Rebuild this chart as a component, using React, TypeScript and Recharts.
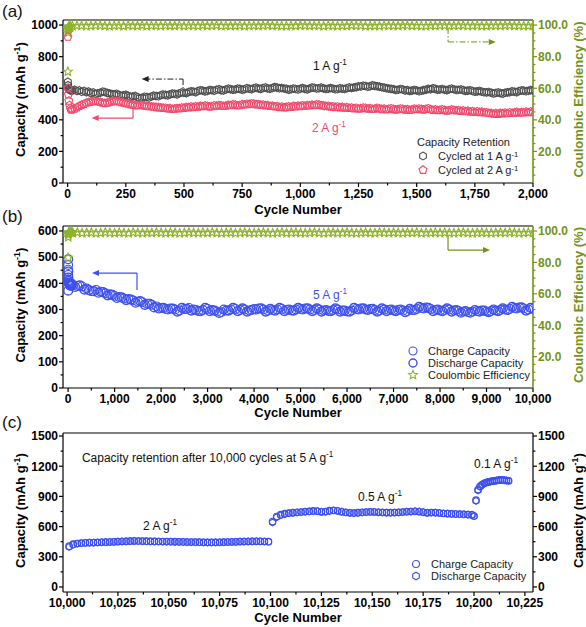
import React from 'react';
import { ScatterChart, Scatter, XAxis, YAxis, ReferenceLine, ReferenceDot, Legend } from 'recharts';

const range = (a: number, b: number, s: number) => {
  const out: number[] = [];
  for (let v = a; v <= b + 1e-9; v += s) out.push(Math.round(v * 1000) / 1000);
  return out;
};

// ---------- (a) long cycling at 1 and 2 A/g ----------
const cyclesA = [1, 2, 3, 5, 8, 12, 16, 20, ...range(30, 2000, 10)];
const cap1A = [
  640, 618, 602, 596, 590, 586, 589, 584,
  590, 582, 586, 578, 583, 575, 579, 569, 573, 564,
  568, 571, 578, 576, 570, 567, 563, 561, 565, 558,
  552, 556, 558, 552, 546, 548, 551, 543, 538, 540,
  546, 544, 541, 548, 553, 551, 549, 556, 560, 558,
  555, 561, 566, 565, 561, 568, 573, 572, 569, 576,
  580, 579, 575, 582, 587, 585, 580, 583, 589, 587,
  584, 590, 594, 588, 586, 592, 597, 594, 590, 592,
  597, 596, 591, 594, 600, 597, 594, 600, 604, 598,
  596, 601, 605, 599, 597, 602, 607, 604, 600, 601,
  598, 596, 591, 593, 598, 595, 592, 597, 601, 596,
  593, 598, 604, 603, 598, 600, 604, 599, 595, 597,
  601, 598, 593, 595, 600, 597, 595, 600, 605, 602,
  605, 607, 612, 611, 616, 614, 609, 612, 618, 615,
  612, 610, 606, 604, 600, 598, 596, 594, 589, 590,
  595, 592, 586, 588, 583, 585, 589, 586, 581, 584,
  588, 590, 596, 594, 599, 596, 591, 592, 595, 590,
  588, 594, 597, 593, 589, 590, 592, 588, 583, 585,
  587, 582, 578, 580, 583, 578, 574, 574, 576, 572,
  567, 570, 573, 569, 566, 571, 574, 575, 580, 578,
  575, 582, 586, 585, 581, 584, 588, 586,
];
const cap2A = [
  925, 600, 560, 520, 492, 472, 463, 466,
  470, 478, 487, 494, 500, 507, 511, 514, 518, 519,
  515, 512, 507, 505, 508, 511, 516, 517, 520, 515,
  511, 508, 504, 501, 497, 495, 492, 490, 494, 492,
  489, 488, 485, 484, 482, 480, 478, 477, 475, 474,
  471, 472, 468, 470, 473, 472, 476, 475, 479, 478,
  482, 480, 484, 482, 486, 485, 489, 487, 483, 485,
  490, 488, 492, 490, 487, 489, 493, 492, 496, 494,
  490, 492, 497, 496, 500, 499, 503, 501, 497, 498,
  494, 495, 491, 492, 487, 488, 484, 485, 480, 482,
  478, 480, 483, 481, 486, 484, 488, 486, 490, 488,
  492, 490, 494, 492, 496, 494, 491, 490, 486, 487,
  483, 484, 480, 482, 478, 480, 476, 478, 474, 476,
  472, 474, 470, 472, 476, 474, 470, 472, 468, 470,
  474, 471, 467, 469, 465, 468, 471, 467, 464, 466,
  470, 468, 464, 466, 462, 465, 469, 466, 470, 467,
  464, 468, 471, 466, 462, 464, 460, 462, 465, 461,
  457, 460, 464, 462, 458, 460, 455, 458, 454, 456,
  451, 454, 449, 452, 448, 450, 446, 446, 443, 442,
  438, 440, 437, 442, 440, 444, 441, 446, 443, 445,
  448, 444, 447, 446, 450, 447, 451, 448,
];
const ceCyclesA1 = [1, 2, 3, 5, 10, ...range(20, 1980, 40)];
const ceA1 = [
  70.5, 95.2, 97.4, 98.5, 99.0,
  99.4, 99.6, 99.5, 99.7, 99.3, 99.6, 99.8, 99.5, 99.4, 99.6,
  99.7, 99.5, 99.3, 99.6, 99.8, 99.6, 99.4, 99.5, 99.7, 99.6,
  99.5, 99.8, 99.6, 99.4, 99.5, 99.7, 99.6, 99.3, 99.5, 99.6,
  99.8, 99.7, 99.5, 99.4, 99.6, 99.5, 99.7, 99.6, 99.4, 99.5,
  99.7, 99.6, 99.8, 99.5, 99.4, 99.6, 99.5, 99.7, 99.6, 99.5,
];
const ceCyclesA2 = [1, 2, 3, 5, 10, ...range(40, 2000, 40)];
const ceA2 = [
  96.8, 98.0, 98.6, 99.0, 99.2,
  99.6, 99.4, 99.7, 99.5, 99.6, 99.3, 99.5, 99.8, 99.6, 99.4,
  99.5, 99.7, 99.6, 99.4, 99.5, 99.8, 99.6, 99.5, 99.3, 99.6,
  99.7, 99.5, 99.4, 99.6, 99.8, 99.5, 99.6, 99.7, 99.4, 99.5,
  99.6, 99.3, 99.5, 99.7, 99.6, 99.8, 99.5, 99.4, 99.6, 99.7,
  99.5, 99.6, 99.4, 99.7, 99.5, 99.6, 99.8, 99.5, 99.4, 99.6,
];

// ---------- (b) 10,000 cycles at 5 A/g ----------
const cyclesB = [1, 2, 3, 5, 10, 20, 40, 60, 80, ...range(100, 10000, 100)];
const cyclesB2 = [1, 2, 3, 5, 10, 20, 40, 60, 80, ...range(50, 9950, 100)];
const chargeB = [
  470, 452, 432, 412, 402, 396, 392, 398, 395,
  392, 390, 388, 380, 370, 375, 368, 362, 358, 352,
  348, 342, 340, 335, 330, 328, 322, 318, 312, 306,
  302, 304, 300, 296, 302, 306, 300, 294, 298, 302,
  298, 292, 290, 296, 300, 302, 298, 300, 296, 302,
  304, 300, 296, 298, 300, 302, 298, 296, 300, 302,
  304, 300, 298, 300, 296, 294, 298, 300, 296, 292,
  296, 302, 304, 300, 302, 298, 296, 300, 298, 296,
  298, 296, 294, 298, 302, 306, 308, 302, 298, 296,
  298, 300, 296, 294, 292, 290, 292, 294, 296, 292,
  294, 296, 298, 300, 302, 306, 308, 304, 300, 302,
];
const dischargeB = [
  492, 372, 445, 422, 408, 400, 395, 390, 398,
  396, 386, 392, 376, 374, 370, 364, 366, 354, 356,
  344, 346, 336, 338, 326, 332, 318, 322, 308, 304,
  306, 300, 303, 292, 306, 302, 296, 298, 294, 306,
  294, 296, 287, 300, 296, 306, 294, 304, 292, 298,
  300, 304, 292, 302, 296, 306, 294, 300, 296, 306,
  300, 304, 294, 304, 292, 298, 294, 304, 292, 296,
  292, 306, 300, 304, 298, 302, 292, 304, 294, 300,
  294, 300, 290, 302, 298, 310, 304, 306, 294, 300,
  294, 304, 292, 298, 288, 294, 288, 298, 292, 296,
  290, 300, 294, 304, 298, 310, 304, 308, 296, 306,
];
const ceB = [
  83.0, 96.1, 97.6, 98.4, 98.9, 99.1, 99.3, 99.2, 99.4,
  98.9, 99.1, 98.7, 98.9, 99.0, 98.6, 98.8, 99.1, 98.9, 98.7,
  99.0, 98.8, 98.6, 99.1, 98.9, 98.7, 99.0, 98.8, 99.1, 98.9,
  98.7, 99.0, 98.9, 98.6, 98.8, 99.1, 98.9, 98.7, 99.0, 98.8,
  99.1, 98.8, 98.7, 98.9, 99.0, 98.6, 98.9, 99.1, 98.8, 98.7,
  98.9, 99.0, 98.8, 98.6, 98.9, 99.1, 98.7, 98.9, 99.0, 98.8,
  98.7, 98.9, 99.1, 98.8, 98.6, 98.9, 99.0, 98.7, 98.9, 99.1,
  98.8, 98.6, 98.9, 99.0, 98.8, 98.7, 99.1, 98.9, 98.8, 99.0,
  98.9, 98.7, 99.0, 98.8, 99.1, 98.6, 98.9, 98.8, 99.0, 98.7,
  99.0, 98.8, 98.7, 98.9, 99.1, 98.8, 98.6, 98.9, 99.0, 98.8,
  98.7, 98.9, 99.0, 98.8, 99.1, 98.9, 98.7, 98.8, 99.0, 98.9,
];

// ---------- (c) rate steps after 10,000 cycles ----------
const cyclesC = [...range(10001, 10099, 2), ...range(10101, 10199, 2), 10200, ...range(10201, 10217, 1)];
const chargeC = [
  405, 425, 432, 436, 438, 440, 441, 442, 444, 445,
  446, 448, 450, 452, 453, 455, 456, 457, 456, 455,
  454, 453, 452, 452, 451, 450, 450, 449, 448, 447,
  446, 446, 445, 444, 443, 443, 444, 444, 445, 446,
  447, 448, 450, 451, 452, 453, 454, 453, 452, 450,
  650, 700, 718, 728, 735, 738, 742, 745, 748, 752,
  756, 752, 744, 750, 758, 760, 754, 746, 740, 736,
  735, 738, 742, 745, 746, 745, 742, 740, 738, 738,
  740, 742, 745, 748, 750, 752, 748, 742, 736, 740,
  738, 734, 730, 728, 726, 724, 724, 722, 720, 716,
  705,
  862, 968, 1000, 1018, 1030, 1038, 1044, 1048, 1052, 1055, 1058, 1062, 1064, 1062, 1060, 1058, 1054,
];
const dischargeC = [
  398, 420, 430, 435, 439, 441, 440, 443, 445, 446,
  447, 449, 451, 453, 455, 456, 458, 456, 455, 454,
  453, 452, 451, 450, 450, 449, 448, 447, 447, 446,
  445, 444, 444, 443, 442, 442, 443, 445, 446, 447,
  448, 449, 451, 452, 453, 454, 455, 454, 452, 449,
  640, 692, 712, 724, 732, 736, 740, 744, 747, 750,
  754, 755, 748, 746, 754, 762, 757, 750, 742, 738,
  734, 736, 740, 744, 747, 746, 744, 741, 739, 737,
  739, 741, 744, 747, 749, 753, 750, 745, 738, 737,
  739, 736, 732, 729, 727, 725, 722, 723, 719, 718,
  702,
  855, 960, 995, 1015, 1028, 1036, 1042, 1047, 1050, 1054, 1057, 1060, 1063, 1063, 1061, 1059, 1056,
];

// tick positions (majors get labels, the rest are minor ticks)
const xTicksA = range(0, 2000, 125);
const yTicksA = range(0, 1000, 100);
const xTicksB = range(0, 10000, 500);
const yTicksB = range(0, 600, 50);
const ceTicks = range(5, 100, 5);
const xTicksC = range(10000, 10225, 12.5);
const yTicksC = range(0, 1500, 150);

const FONT = '"Liberation Sans", Arial, sans-serif';
const GREEN = '#72931a';
const STAR = '#8db32b';
const GRAY = '#4f4f4f';
const PINK = '#f04a6c';
const BLUE = '#3e50ee';
const AXIS = { stroke: '#000', strokeWidth: 1.2 };
const GAXIS = { stroke: GREEN, strokeWidth: 1.6 };
const TS = 4;
const TM = 2;

const toPts = (xs: number[], ys: number[]) => xs.map((x, i) => ({ x, y: ys[i] }));
const fmtK = (v: number) => v.toLocaleString('en-US');
const fmtN = (v: number) => String(v);
const fmtCE = (v: number) => v.toFixed(1);

type Side = 'bottom' | 'left' | 'right';
const makeTick = (side: Side, step: number, fmt: (v: number) => string, color: string) => (props: any) => {
  const { x, y, payload } = props;
  const v = payload.value;
  const major = Math.abs(v / step - Math.round(v / step)) < 1e-6;
  const len = major ? TS : TS * 0.6;
  const txt = { fontFamily: FONT, fontSize: 12, fontWeight: 700, fill: color };
  if (side === 'bottom') {
    const ay = y - TS - TM;
    return (
      <g>
        <line x1={x} x2={x} y1={ay} y2={ay + len} stroke={color} strokeWidth={1.2} />
        {major && <text x={x} y={ay + 15} textAnchor="middle" {...txt}>{fmt(v)}</text>}
      </g>
    );
  }
  if (side === 'left') {
    const ax = x + TS + TM;
    return (
      <g>
        <line x1={ax} x2={ax - len} y1={y} y2={y} stroke={color} strokeWidth={1.2} />
        {major && <text x={ax - 5} y={y + 4.3} textAnchor="end" {...txt}>{fmt(v)}</text>}
      </g>
    );
  }
  const ax = x - TS - TM;
  return (
    <g>
      <line x1={ax} x2={ax + len} y1={y} y2={y} stroke={color} strokeWidth={1.2} />
      {major && <text x={ax + 5} y={y + 4.3} textAnchor="start" {...txt}>{fmt(v)}</text>}
    </g>
  );
};

const pts = (cx: number, cy: number, r: number, n: number, inner = 0) => {
  const k = inner ? n * 2 : n;
  const out: string[] = [];
  for (let i = 0; i < k; i++) {
    const rr = inner && i % 2 ? inner : r;
    const a = ((-90 + (360 / k) * i) * Math.PI) / 180;
    out.push(`${(cx + rr * Math.cos(a)).toFixed(2)},${(cy + rr * Math.sin(a)).toFixed(2)}`);
  }
  return out.join(' ');
};

const hexagon = (color: string, r = 3.9) => (p: any) =>
  <polygon points={pts(p.cx, p.cy, r, 6)} fill="none" stroke={color} strokeWidth={1.1} />;
const pentagon = (color: string, r = 4.2) => (p: any) =>
  <polygon points={pts(p.cx, p.cy, r, 5)} fill="none" stroke={color} strokeWidth={1.1} />;
const star = (color: string, r = 4.6) => (p: any) =>
  <polygon points={pts(p.cx, p.cy, r, 5, r * 0.45)} fill="none" stroke={color} strokeWidth={1.1} />;
const ring = (color: string, r = 4, w = 1.1) => (p: any) =>
  <circle cx={p.cx} cy={p.cy} r={r} fill="none" stroke={color} strokeWidth={w} />;

const arrowHead = (dir: 'left' | 'right', color: string) => (p: any) => {
  const s = dir === 'left' ? 1 : -1;
  return <polygon points={`${p.cx},${p.cy} ${p.cx + s * 7},${p.cy - 3} ${p.cx + s * 7},${p.cy + 3}`} fill={color} />;
};

const note = (base: string, sup: string, color: string, size = 12, anchor: 'middle' | 'start' = 'middle') => (p: any) => (
  <text x={p.cx} y={p.cy} dy="0.35em" textAnchor={anchor} fill={color} fontSize={size} fontFamily={FONT}>
    {base}
    {sup && <tspan dy={-5} fontSize={size * 0.68}>{sup}</tspan>}
  </text>
);

const XTitle = (props: any) => {
  const vb = props.viewBox;
  return (
    <text x={vb.x + vb.width / 2} y={vb.y + props.dy} textAnchor="middle" fontFamily={FONT} fontWeight={700} fontSize={13} fill="#000">
      Cycle Number
    </text>
  );
};

const YTitle = (props: any) => {
  const vb = props.viewBox;
  const cx = props.side === 'left' ? vb.x + 7 : vb.x + vb.width;
  const cy = vb.y + vb.height / 2 - 2;
  const color = props.color || '#000';
  return (
    <text transform={`translate(${cx},${cy}) rotate(-90)`} dy="0.35em" textAnchor="middle" fontFamily={FONT} fontWeight={700} fontSize={13} fill={color}>
      {props.ce ? 'Coulombic Efficiency (%)' : (
        <>
          Capacity (mAh g<tspan dy={-5} fontSize={9}>-1</tspan><tspan dy={5}>)</tspan>
        </>
      )}
    </text>
  );
};

const Sup = ({ children }: any) => (
  <span style={{ fontSize: '0.7em', position: 'relative', top: '-0.45em' }}>{children}</span>
);

const LegendRow = ({ shape, children, h }: any) => (
  <div style={{ display: 'flex', alignItems: 'center', height: h }}>
    <svg width={14} height={h} style={{ display: 'block', marginRight: 8 }}>{shape({ cx: 7, cy: h / 2 })}</svg>
    <span>{children}</span>
  </div>
);

const legendBox = { fontFamily: FONT, fontSize: 11, color: '#222', whiteSpace: 'nowrap' as const };

function PanelA() {
  return (
    <ScatterChart width={586} height={220} margin={{ top: 20, right: 8, bottom: 5, left: 13 }}>
      <XAxis type="number" dataKey="x" domain={[-20, 2000]} allowDataOverflow ticks={xTicksA} interval={0}
        height={32} tickSize={TS} tickMargin={TM} tickLine={false} axisLine={AXIS}
        tick={makeTick('bottom', 250, fmtK, '#000')} label={<XTitle dy={31} />} />
      <YAxis yAxisId="cap" type="number" dataKey="y" domain={[0, 1032]} allowDataOverflow ticks={yTicksA} interval={0}
        width={50} tickSize={TS} tickMargin={TM} tickLine={false} axisLine={AXIS}
        tick={makeTick('left', 200, fmtN, '#000')} label={<YTitle side="left" />} />
      <YAxis yAxisId="ce" orientation="right" type="number" dataKey="y" domain={[0, 103.2]} allowDataOverflow ticks={ceTicks} interval={0}
        width={45} tickSize={TS} tickMargin={TM} tickLine={false} axisLine={GAXIS}
        tick={makeTick('right', 20, fmtCE, GREEN)} label={<YTitle side="right" ce color={GREEN} />} />
      <ReferenceLine yAxisId="cap" y={1032} stroke="#000" strokeWidth={1.2} ifOverflow="visible" />

      <Scatter yAxisId="ce" data={toPts(ceCyclesA1, ceA1)} shape={star(STAR)} isAnimationActive={false} />
      <Scatter yAxisId="ce" data={toPts(ceCyclesA2, ceA2)} shape={star(STAR)} isAnimationActive={false} />
      <Scatter yAxisId="cap" name="Cycled at 1 A g-1" data={toPts(cyclesA, cap1A)} shape={hexagon(GRAY)} isAnimationActive={false} />
      <Scatter yAxisId="cap" name="Cycled at 2 A g-1" data={toPts(cyclesA, cap2A)} shape={pentagon(PINK)} isAnimationActive={false} />

      <ReferenceLine yAxisId="cap" segment={[{ x: 330, y: 658 }, { x: 496, y: 658 }]} stroke="#222" strokeDasharray="6 2 1.5 2" />
      <ReferenceLine yAxisId="cap" segment={[{ x: 496, y: 658 }, { x: 496, y: 601 }]} stroke="#222" strokeDasharray="6 2 1.5 2" />
      <ReferenceDot yAxisId="cap" x={318} y={658} r={0} shape={arrowHead('left', '#222')} />
      <ReferenceLine yAxisId="cap" segment={[{ x: 115, y: 411 }, { x: 281, y: 411 }]} stroke={PINK} strokeWidth={1.2} />
      <ReferenceLine yAxisId="cap" segment={[{ x: 281, y: 411 }, { x: 281, y: 481 }]} stroke={PINK} strokeWidth={1.2} />
      <ReferenceDot yAxisId="cap" x={103} y={411} r={0} shape={arrowHead('left', PINK)} />
      <ReferenceLine yAxisId="cap" segment={[{ x: 1635, y: 981 }, { x: 1635, y: 893 }]} stroke={GREEN} strokeDasharray="6 2 1.5 2" />
      <ReferenceLine yAxisId="cap" segment={[{ x: 1635, y: 893 }, { x: 1810, y: 893 }]} stroke={GREEN} strokeDasharray="6 2 1.5 2" />
      <ReferenceDot yAxisId="cap" x={1840} y={893} r={0} shape={arrowHead('right', GREEN)} />

      <ReferenceDot yAxisId="cap" x={1127} y={741} r={0} shape={note('1 A g', '-1', '#111')} />
      <ReferenceDot yAxisId="cap" x={1123} y={348} r={0} shape={note('2 A g', '-1', PINK)} />

      <Legend layout="vertical" align="center" verticalAlign="middle" wrapperStyle={{ left: 416, top: 135, width: 'auto' }}
        content={() => (
          <div style={legendBox}>
            <div style={{ height: 14, lineHeight: '14px', marginLeft: 1 }}>Capacity Retention</div>
            <LegendRow shape={hexagon(GRAY)} h={14}>Cycled at 1 A g<Sup>-1</Sup></LegendRow>
            <LegendRow shape={pentagon(PINK)} h={14}>Cycled at 2 A g<Sup>-1</Sup></LegendRow>
          </div>
        )} />
    </ScatterChart>
  );
}

function PanelB() {
  return (
    <ScatterChart width={586} height={215} margin={{ top: 21, right: 8, bottom: 3, left: 13 }}>
      <XAxis type="number" dataKey="x" domain={[-110, 10000]} allowDataOverflow ticks={xTicksB} interval={0}
        height={29} tickSize={TS} tickMargin={TM} tickLine={false} axisLine={AXIS}
        tick={makeTick('bottom', 1000, fmtK, '#000')} label={<XTitle dy={29} />} />
      <YAxis yAxisId="cap" type="number" dataKey="y" domain={[0, 619]} allowDataOverflow ticks={yTicksB} interval={0}
        width={50} tickSize={TS} tickMargin={TM} tickLine={false} axisLine={AXIS}
        tick={makeTick('left', 100, fmtN, '#000')} label={<YTitle side="left" />} />
      <YAxis yAxisId="ce" orientation="right" type="number" dataKey="y" domain={[0, 103.2]} allowDataOverflow ticks={ceTicks} interval={0}
        width={45} tickSize={TS} tickMargin={TM} tickLine={false} axisLine={GAXIS}
        tick={makeTick('right', 20, fmtCE, GREEN)} label={<YTitle side="right" ce color={GREEN} />} />
      <ReferenceLine yAxisId="cap" y={619} stroke="#000" strokeWidth={1.2} ifOverflow="visible" />

      <Scatter yAxisId="cap" name="Charge Capacity" data={toPts(cyclesB, chargeB)} shape={ring(BLUE, 4.4)} isAnimationActive={false} />
      <Scatter yAxisId="cap" name="Discharge Capacity" data={toPts(cyclesB2, dischargeB)} shape={ring(BLUE, 4.4, 1.4)} isAnimationActive={false} />
      <Scatter yAxisId="ce" name="Coulombic Efficiency" data={toPts(cyclesB, ceB)} shape={star(STAR)} isAnimationActive={false} />

      <ReferenceLine yAxisId="cap" segment={[{ x: 1482, y: 374 }, { x: 1482, y: 439 }]} stroke={BLUE} strokeWidth={1.2} />
      <ReferenceLine yAxisId="cap" segment={[{ x: 1482, y: 439 }, { x: 640, y: 439 }]} stroke={BLUE} strokeWidth={1.2} />
      <ReferenceDot yAxisId="cap" x={514} y={439} r={0} shape={arrowHead('left', BLUE)} />
      <ReferenceLine yAxisId="cap" segment={[{ x: 8172, y: 581 }, { x: 8172, y: 527 }]} stroke={GREEN} strokeWidth={1.2} />
      <ReferenceLine yAxisId="cap" segment={[{ x: 8172, y: 527 }, { x: 8950, y: 527 }]} stroke={GREEN} strokeWidth={1.2} />
      <ReferenceDot yAxisId="cap" x={9075} y={527} r={0} shape={arrowHead('right', GREEN)} />

      <ReferenceDot yAxisId="cap" x={5633} y={355} r={0} shape={note('5 A g', '-1', BLUE)} />

      <Legend layout="vertical" align="center" verticalAlign="middle" wrapperStyle={{ left: 406, top: 140, width: 'auto' }}
        content={() => (
          <div style={legendBox}>
            <LegendRow shape={ring(BLUE, 4)} h={12}>Charge Capacity</LegendRow>
            <LegendRow shape={ring(BLUE, 4, 1.4)} h={12}>Discharge Capacity</LegendRow>
            <LegendRow shape={star(STAR)} h={12}>Coulombic Efficiency</LegendRow>
          </div>
        )} />
    </ScatterChart>
  );
}

function PanelC() {
  return (
    <ScatterChart width={586} height={217} margin={{ top: 23, right: 8, bottom: 4, left: 13 }}>
      <XAxis type="number" dataKey="x" domain={[9998, 10229]} allowDataOverflow ticks={xTicksC} interval={0}
        height={31} tickSize={TS} tickMargin={TM} tickLine={false} axisLine={AXIS}
        tick={makeTick('bottom', 25, fmtK, '#000')} label={<XTitle dy={30} />} />
      <YAxis yAxisId="cap" type="number" dataKey="y" domain={[-50, 1530]} allowDataOverflow ticks={yTicksC} interval={0}
        width={50} tickSize={TS} tickMargin={TM} tickLine={false} axisLine={AXIS}
        tick={makeTick('left', 300, fmtN, '#000')} label={<YTitle side="left" />} />
      <YAxis yAxisId="cap2" orientation="right" type="number" dataKey="y" domain={[-50, 1530]} allowDataOverflow ticks={yTicksC} interval={0}
        width={45} tickSize={TS} tickMargin={TM} tickLine={false} axisLine={AXIS}
        tick={makeTick('right', 300, fmtN, '#000')} label={<YTitle side="right" />} />
      <ReferenceLine yAxisId="cap" y={1530} stroke="#000" strokeWidth={1.2} ifOverflow="visible" />

      <Scatter yAxisId="cap" name="Charge Capacity" data={toPts(cyclesC, chargeC)} shape={ring(BLUE, 3.3)} isAnimationActive={false} />
      <Scatter yAxisId="cap" name="Discharge Capacity" data={toPts(cyclesC, dischargeC)} shape={hexagon(BLUE, 3.4)} isAnimationActive={false} />

      <ReferenceDot yAxisId="cap" x={10007.3} y={1281} r={0} shape={note('Capacity retention after 10,000 cycles at 5 A g', '-1', '#111', 12, 'start')} />
      <ReferenceDot yAxisId="cap" x={10045.7} y={606} r={0} shape={note('2 A g', '-1', '#111')} />
      <ReferenceDot yAxisId="cap" x={10153.8} y={894} r={0} shape={note('0.5 A g', '-1', '#111')} />
      <ReferenceDot yAxisId="cap" x={10210.8} y={1222} r={0} shape={note('0.1 A g', '-1', '#111')} />

      <Legend layout="vertical" align="center" verticalAlign="middle" wrapperStyle={{ left: 409, top: 148, width: 'auto' }}
        content={() => (
          <div style={legendBox}>
            <LegendRow shape={ring(BLUE, 3.5)} h={12}>Charge Capacity</LegendRow>
            <LegendRow shape={hexagon(BLUE, 3.8)} h={12}>Discharge Capacity</LegendRow>
          </div>
        )} />
    </ScatterChart>
  );
}

const panelLabel = (top: number) => ({
  position: 'absolute' as const, left: 2, top, fontFamily: FONT, fontSize: 17, lineHeight: '20px', color: '#111',
});

export default function App() {
  return (
    <div style={{ position: 'absolute', left: 0, top: 0, width: 586, height: 627, background: '#fff', overflow: 'hidden' }}>
      <div style={{ position: 'absolute', left: 0, top: 0 }}><PanelA /></div>
      <div style={{ position: 'absolute', left: 0, top: 205 }}><PanelB /></div>
      <div style={{ position: 'absolute', left: 0, top: 410 }}><PanelC /></div>
      <div style={panelLabel(2)}>(a)</div>
      <div style={panelLabel(207)}>(b)</div>
      <div style={panelLabel(413)}>(c)</div>
    </div>
  );
}
